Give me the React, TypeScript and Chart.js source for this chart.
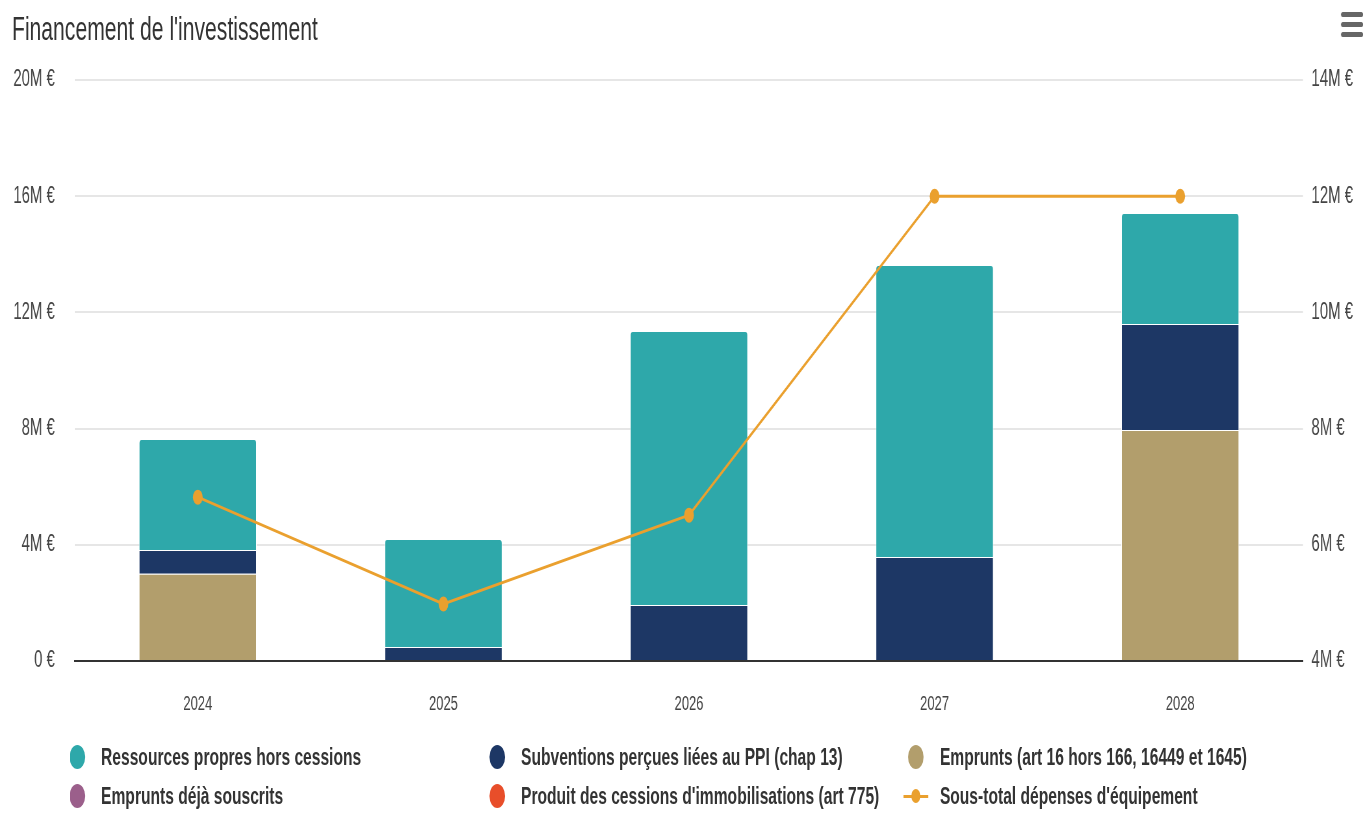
import React, { useEffect, useRef } from "react";
import { Chart, registerables } from "chart.js";

Chart.register(...registerables);

const categories = ["2024", "2025", "2026", "2027", "2028"];
// values in millions of euros
const ressourcesPropres = [3.82, 3.72, 9.43, 10.05, 3.82];
const subventions = [0.82, 0.48, 1.93, 3.58, 3.65];
const emprunts = [3.0, 0, 0, 0, 7.95];
const empruntsDeja = [0, 0, 0, 0, 0];
const cessions = [0, 0, 0, 0, 0];
const sousTotal = [6.82, 4.98, 6.51, 12.0, 12.0];

const leftTicks = [0, 4, 8, 12, 16, 20];
const rightTicks = [4, 6, 8, 10, 12, 14];

const COLORS = {
  ressources: "#2ea8aa",
  subventions: "#1d3765",
  emprunts: "#b29e6c",
  empruntsDeja: "#9b5f8b",
  cessions: "#e84e2a",
  line: "#eaa02e",
};

const legendItems = [
  { label: "Ressources propres hors cessions", color: COLORS.ressources, type: "dot" },
  { label: "Subventions perçues liées au PPI (chap 13)", color: COLORS.subventions, type: "dot" },
  { label: "Emprunts (art 16 hors 166, 16449 et 1645)", color: COLORS.emprunts, type: "dot" },
  { label: "Emprunts déjà souscrits", color: COLORS.empruntsDeja, type: "dot" },
  { label: "Produit des cessions d'immobilisations (art 775)", color: COLORS.cessions, type: "dot" },
  { label: "Sous-total dépenses d'équipement", color: COLORS.line, type: "line" },
];

const S = 0.65; // horizontal compression of the picture
const W = Math.round(1372 / S);
const H = 830;
const FONT = "'Liberation Sans', Arial, Helvetica, sans-serif";

const fmt = (v: number) => (v === 0 ? "0 €" : `${v}M €`);

export default function App() {
  const ref = useRef<HTMLCanvasElement | null>(null);

  useEffect(() => {
    const canvas = ref.current;
    if (!canvas) return;
    const barBase = {
      type: "bar" as const,
      yAxisID: "y",
      borderColor: "#ffffff",
      borderWidth: 1,
      barPercentage: 0.48,
      categoryPercentage: 1,
      stack: "s",
      order: 1,
    };
    const chart = new Chart(canvas, {
      data: {
        labels: categories,
        datasets: [
          { ...barBase, label: "Produit des cessions d'immobilisations (art 775)", data: cessions, backgroundColor: COLORS.cessions, borderWidth: 0 },
          { ...barBase, label: "Emprunts déjà souscrits", data: empruntsDeja, backgroundColor: COLORS.empruntsDeja, borderWidth: 0 },
          { ...barBase, label: "Emprunts (art 16 hors 166, 16449 et 1645)", data: emprunts, backgroundColor: COLORS.emprunts },
          { ...barBase, label: "Subventions perçues liées au PPI (chap 13)", data: subventions, backgroundColor: COLORS.subventions },
          { ...barBase, label: "Ressources propres hors cessions", data: ressourcesPropres, backgroundColor: COLORS.ressources, borderRadius: 4 },
          {
            type: "line" as const,
            label: "Sous-total dépenses d'équipement",
            data: sousTotal,
            yAxisID: "y1",
            borderColor: COLORS.line,
            backgroundColor: COLORS.line,
            borderWidth: 3,
            pointRadius: 7.5,
            pointBorderWidth: 0,
            pointBackgroundColor: COLORS.line,
            tension: 0,
            order: 0,
          },
        ],
      } as any,
      options: {
        responsive: false,
        animation: false,
        devicePixelRatio: 1,
        layout: { padding: { top: 80, bottom: 109, left: 0, right: 0 } },
        plugins: {
          legend: { display: false },
          title: { display: false },
          tooltip: { enabled: false },
        },
        scales: {
          x: {
            stacked: true,
            grid: { display: false, drawTicks: false },
            border: { display: true, color: "#333333", width: 2 },
            ticks: { color: "#444444", font: { family: FONT, size: 20 }, padding: 31 },
            afterFit: (scale: any) => {
              scale.height = 60;
            },
          },
          y: {
            stacked: true,
            position: "left",
            min: 0,
            max: 20,
            afterBuildTicks: (scale: any) => {
              scale.ticks = leftTicks.map((v) => ({ value: v }));
            },
            grid: { color: "#e6e6e6", lineWidth: 2, drawTicks: false },
            border: { display: false },
            ticks: {
              color: "#444444",
              font: { family: FONT, size: 23 },
              padding: 31,
              callback: (v: any) => fmt(Number(v)),
            },
            afterFit: (scale: any) => {
              scale.width = 115.4;
            },
          },
          y1: {
            position: "right",
            min: 4,
            max: 14,
            afterBuildTicks: (scale: any) => {
              scale.ticks = rightTicks.map((v) => ({ value: v }));
            },
            grid: { display: false, drawTicks: false },
            border: { display: false },
            ticks: {
              color: "#444444",
              font: { family: FONT, size: 23 },
              padding: 13,
              callback: (v: any) => fmt(Number(v)),
            },
            afterFit: (scale: any) => {
              scale.width = W - 2004.6;
            },
          },
        },
      } as any,
    });
    return () => chart.destroy();
  }, []);

  const colX = [118.5, 764.6, 1409];
  const rowY = [757, 796];

  return (
    <div
      style={{
        position: "absolute",
        left: 0,
        top: 0,
        width: W,
        height: H,
        transform: `scaleX(${S})`,
        transformOrigin: "0 0",
        background: "#ffffff",
        fontFamily: FONT,
        overflow: "hidden",
      }}
    >
      <canvas ref={ref} width={W} height={H} style={{ position: "absolute", left: 0, top: 0 }} />
      <div
        style={{
          position: "absolute",
          left: 18.5,
          top: 13,
          fontSize: 32.5,
          lineHeight: "33px",
          color: "#333333",
          whiteSpace: "nowrap",
        }}
      >
        Financement de l'investissement
      </div>
      <div style={{ position: "absolute", left: 2063, top: 12, width: 34 }}>
        {[0, 1, 2].map((i) => (
          <div
            key={i}
            style={{
              position: "absolute",
              left: 0,
              top: i * 10,
              width: 34,
              height: 5,
              borderRadius: 3,
              background: "#666666",
            }}
          />
        ))}
      </div>
      {legendItems.map((it, i) => {
        const cx = colX[i % 3];
        const cy = rowY[Math.floor(i / 3)];
        return (
          <React.Fragment key={it.label}>
            {it.type === "dot" ? (
              <div
                style={{
                  position: "absolute",
                  left: cx - 12,
                  top: cy - 12,
                  width: 24,
                  height: 24,
                  borderRadius: "50%",
                  background: it.color,
                }}
              />
            ) : (
              <>
                <div
                  style={{
                    position: "absolute",
                    left: cx - 19,
                    top: cy - 1.5,
                    width: 38,
                    height: 3,
                    background: it.color,
                  }}
                />
                <div
                  style={{
                    position: "absolute",
                    left: cx - 7,
                    top: cy - 7,
                    width: 14,
                    height: 14,
                    borderRadius: "50%",
                    background: it.color,
                  }}
                />
              </>
            )}
            <div
              style={{
                position: "absolute",
                left: cx + 37,
                top: cy - 14,
                fontSize: 24,
                lineHeight: "28px",
                fontWeight: "bold",
                color: "#333333",
                whiteSpace: "nowrap",
              }}
            >
              {it.label}
            </div>
          </React.Fragment>
        );
      })}
    </div>
  );
}
